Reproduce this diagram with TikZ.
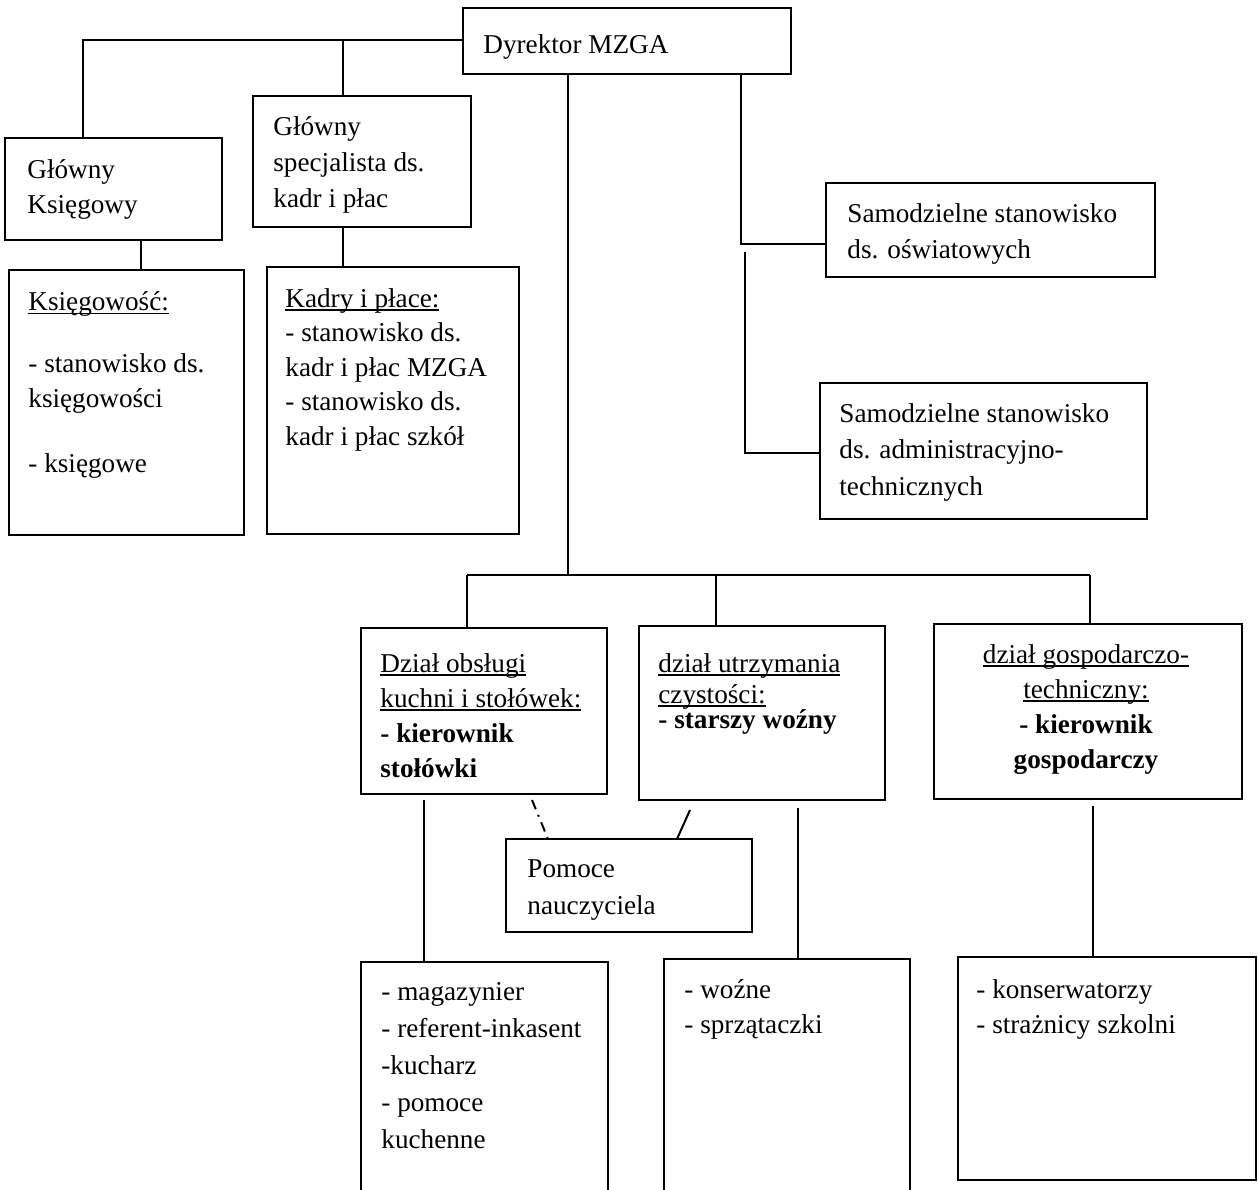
\documentclass[tikz,border=0pt]{standalone}
\usepackage{fontspec}
\setmainfont{Liberation Serif}
\newsavebox\ulbox
\newcommand\ulx[1]{\sbox\ulbox{#1}\rlap{\rule[-1.8pt]{\wd\ulbox}{0.7pt}}\usebox\ulbox}
\newcommand\boxat[5]{\node[box, minimum width={(#4-#2)*0.5pt}, minimum height={(#5-#3)*0.5pt}] (#1) at (#2,#3) {};}
\begin{document}
\begin{tikzpicture}[x=0.5pt,y=-0.5pt,
  box/.style={draw, line width=1.2pt, inner sep=0pt, outer sep=0pt, anchor=north west},
  txt/.style={anchor=north west, inner sep=0pt, align=left, font=\fontsize{13.6}{18.5}\selectfont},
  ln/.style={line width=1pt},
  dashdot/.style={line width=1pt, dash pattern=on 5pt off 3pt on 1pt off 3pt}]
\fill[white] (0,0) rectangle (1258,1189);
\clip (0,0) rectangle (1258,1189);

% boxes
\boxat{dyr}{463}{8}{791}{74}
\boxat{gk}{5}{138}{222}{240}
\boxat{gs}{253}{96}{471}{227}
\boxat{ks}{9}{270}{244}{535}
\boxat{kp}{267}{267}{519}{534}
\boxat{so}{826}{183}{1155}{277}
\boxat{sa}{820}{383}{1147}{519}
\boxat{d1}{361}{628}{607}{794}
\boxat{d2}{639}{626}{885}{800}
\boxat{d3}{934}{624}{1242}{799}
\boxat{pn}{506}{839}{752}{932}
\boxat{b1}{361}{962}{608}{1195}
\boxat{b2}{664}{959}{910}{1195}
\boxat{b3}{958}{957}{1256}{1180}

% texts
\node[txt] (dyrT) at (483,34) {Dyrektor MZGA};
\node[txt, font=\fontsize{13.6}{17.5}\selectfont] (gkT) at (27,159) {Główny\\Księgowy};
\node[txt, font=\fontsize{13.6}{18}\selectfont] (gsT) at (273,116) {Główny\\specjalista ds.\\kadr i płac};
\node[txt, font=\fontsize{13.6}{17.5}\selectfont] (ksT) at (28,291) {\ulx{Księgowość:}\\[13.5pt]- stanowisko ds.\\księgowości\\[15pt]- księgowe};
\node[txt, font=\fontsize{13.6}{17.25}\selectfont] (kpT) at (285,288) {\ulx{Kadry i płace:}\\- stanowisko ds.\\kadr i płac MZGA\\- stanowisko ds.\\kadr i płac szkół};
\node[txt, font=\fontsize{13.6}{18}\selectfont] (soT) at (847,203) {Samodzielne stanowisko\\ds. oświatowych};
\node[txt, font=\fontsize{13.6}{18.25}\selectfont] (saT) at (839,403) {Samodzielne stanowisko\\ds. administracyjno-\\technicznych};
\node[txt, font=\fontsize{13.6}{17.5}\selectfont] (d1T) at (380,653) {\ulx{Dział obsługi}\\\ulx{kuchni i stołówek:}\\\textbf{- kierownik}\\\textbf{stołówki}};
\node[txt, font=\fontsize{13.6}{15.5}\selectfont] (d2T) at (658,653) {\ulx{dział utrzymania}\\\ulx{czystości:}\\[-3pt]\textbf{- starszy woźny}};
\node[txt, anchor=north, align=center, font=\fontsize{13.6}{17.5}\selectfont] (d3T) at (1086,644) {\ulx{dział gospodarczo-}\\\ulx{techniczny:}\\\textbf{- kierownik}\\\textbf{gospodarczy}};
\node[txt] (pnT) at (527,859) {Pomoce\\nauczyciela};
\node[txt] (b1T) at (381,982) {- magazynier\\- referent-inkasent\\-kucharz\\- pomoce\\kuchenne};
\node[txt, font=\fontsize{13.6}{17.5}\selectfont] (b2T) at (684,979) {- woźne\\- sprzątaczki};
\node[txt, font=\fontsize{13.6}{17.5}\selectfont] (b3T) at (976,979) {- konserwatorzy\\- strażnicy szkolni};

% connectors
\coordinate (j1) at (83,40);
\coordinate (j2) at (343,40);
\draw[ln] (dyr.west |- j1) -- (j1) -- (j1 |- gk.north);
\draw[ln] (j2) -- (j2 |- gs.north);
\coordinate (k1) at (141,240);
\coordinate (k2) at (343,227);
\draw[ln] (k1 |- gk.south) -- (k1 |- ks.north);
\draw[ln] (k2 |- gs.south) -- (k2 |- kp.north);

\coordinate (v1) at (568,575);
\draw[ln] (v1 |- dyr.south) -- (v1);
\coordinate (busL) at (467,575);
\coordinate (busR) at (1090,575);
\coordinate (v2) at (716,575);
\draw[ln] (busL) -- (busR);
\draw[ln] (busL) -- (busL |- d1.north);
\draw[ln] (v2) -- (v2 |- d2.north);
\draw[ln] (busR) -- (busR |- d3.north);

\coordinate (r1) at (741,244);
\draw[ln] (r1 |- dyr.south) -- (r1) -- (r1 -| so.west);
\coordinate (r2a) at (745,252);
\coordinate (r2) at (745,453);
\draw[ln] (r2a) -- (r2) -- (r2 -| sa.west);

\coordinate (p1) at (532,800);
\coordinate (p2) at (548,839);
\draw[dashdot] (p1) -- (p2 |- pn.north);
\coordinate (q1) at (690,810);
\coordinate (q2) at (677,839);
\draw[ln] (q1) -- (q2 |- pn.north);

\coordinate (s1) at (424,800);
\coordinate (s2) at (798,808);
\coordinate (s3) at (1093,806);
\draw[ln] (s1) -- (s1 |- b1.north);
\draw[ln] (s2) -- (s2 |- b2.north);
\draw[ln] (s3) -- (s3 |- b3.north);
\end{tikzpicture}
\end{document}
